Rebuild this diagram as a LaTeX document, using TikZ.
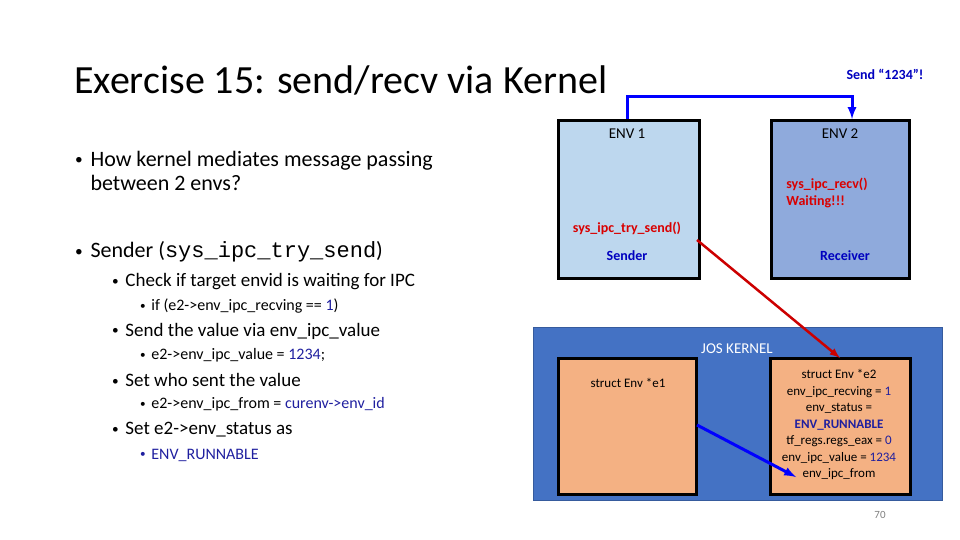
\documentclass[tikz,border=0pt]{standalone}
\usepackage{fontspec}
\setmainfont{Carlito}
\setmonofont{Liberation Mono}
\begin{document}
\begin{tikzpicture}[x=1pt,y=-1pt,
 lt/.style={anchor=west,inner sep=0pt},
 envbox/.style={draw=black,line width=3pt,anchor=north west,inner sep=0pt},
 rt/.style={text=red!85!black,font=\fontsize{14}{17}\selectfont\bfseries},
 bt/.style={text=blue!75!black,font=\fontsize{14}{17}\selectfont\bfseries}]
\definecolor{env1c}{HTML}{BDD7EE}
\definecolor{env2c}{HTML}{8FAADC}
\definecolor{kc}{HTML}{4472C4}
\definecolor{oc}{HTML}{F4B183}
\definecolor{nb}{HTML}{1F1F9F}
\newcommand{\bul}{\raisebox{0.15ex}{\scalebox{0.7}{\textbullet}}\hspace{0.35em}}
\useasboundingbox (0,0) rectangle (960,540);
\node[lt,font=\fontsize{40}{44}\selectfont] (title) at (74,80) {Exercise 15: send/recv via Kernel};
\node[lt,font=\fontsize{22}{24}\selectfont,align=left] (b1) at (75,171) {\bul How kernel mediates message passing\\\phantom{\bul}between 2 envs?};
\node[lt,font=\fontsize{22}{24}\selectfont] (b2) at (75,252) {\bul Sender (\texttt{sys\_ipc\_try\_send})};
\begin{scope}[font=\fontsize{19}{21}\selectfont]
\node[lt] (s1) at (112,282) {\bul Check if target envid is waiting for IPC};
\node[lt] (s2) at (112,331) {\bul Send the value via env\_ipc\_value};
\node[lt] (s3) at (112,380) {\bul Set who sent the value};
\node[lt] (s4) at (112,430) {\bul Set e2->env\_status as};
\end{scope}
\begin{scope}[font=\fontsize{16}{18}\selectfont]
\node[lt] (t1) at (140,306) {\bul if (e2->env\_ipc\_recving == {\color{nb}1})};
\node[lt] (t2) at (140,355) {\bul e2->env\_ipc\_value = {\color{nb}1234};};
\node[lt] (t3) at (140,404) {\bul e2->env\_ipc\_from = {\color{nb}curenv->env\_id}};
\node[lt,text=nb] (t4) at (140,455) {\bul ENV\_RUNNABLE};
\end{scope}
% env boxes
\node[envbox,fill=env1c,minimum width=141,minimum height=158] (env1) at (557,119) {};
\node[envbox,fill=env2c,minimum width=138,minimum height=158] (env2) at (770,119) {};
\node[font=\fontsize{15}{17}\selectfont] (e1l) at (627,134) {ENV 1};
\node[font=\fontsize{15}{17}\selectfont] (e2l) at (840,134) {ENV 2};
\node[rt] (send) at (627,228) {sys\_ipc\_try\_send()};
\node[bt] (sender) at (627,256) {Sender};
\node[rt,align=left] (recv) at (827,193) {sys\_ipc\_recv()\\Waiting!!!};
\node[bt] (receiver) at (845,256) {Receiver};
\node[bt] (s1234) at (885,74) {Send “1234”!};
\coordinate (a1) at (627,119);
\coordinate (a2) at (852,119);
\draw[blue,line width=3pt,-latex] (a1) -- (627,97) -| (a2);
% kernel
\node[draw=kc!80!black,fill=kc,anchor=north west,minimum width=409,minimum height=173,inner sep=0pt] (kern) at (533,327) {};
\node[text=white,font=\fontsize{15}{17}\selectfont] (kl) at (737,349) {JOS KERNEL};
\node[envbox,fill=oc,minimum width=138,minimum height=136] (se1) at (557,357) {};
\node[envbox,fill=oc,minimum width=140,minimum height=136] (se2) at (769,357) {};
\node[font=\fontsize{13}{15}\selectfont] (se1l) at (628,383) {struct Env *e1};
\node[font=\fontsize{13}{16.5}\selectfont,align=center,anchor=north] (se2l) at (839,366) {struct Env *e2\\env\_ipc\_recving = {\color{nb}1}\\env\_status =\\{\color{nb}\bfseries ENV\_RUNNABLE}\\tf\_regs.regs\_eax = {\color{nb}0}\\env\_ipc\_value = {\color{nb}1234}\\env\_ipc\_from};
\coordinate (r1) at (697,240);
\coordinate (r2) at (840,358);
\draw[red!80!black,line width=2.5pt,-latex] (r1) -- (r2);
\coordinate (bb1) at (697,425);
\coordinate (bb2) at (796,477);
\draw[blue,line width=3pt,-latex] (bb1) -- (bb2);
\node[text=gray,font=\fontsize{11}{13}\selectfont] (pn) at (880,515) {70};
\end{tikzpicture}
\end{document}
